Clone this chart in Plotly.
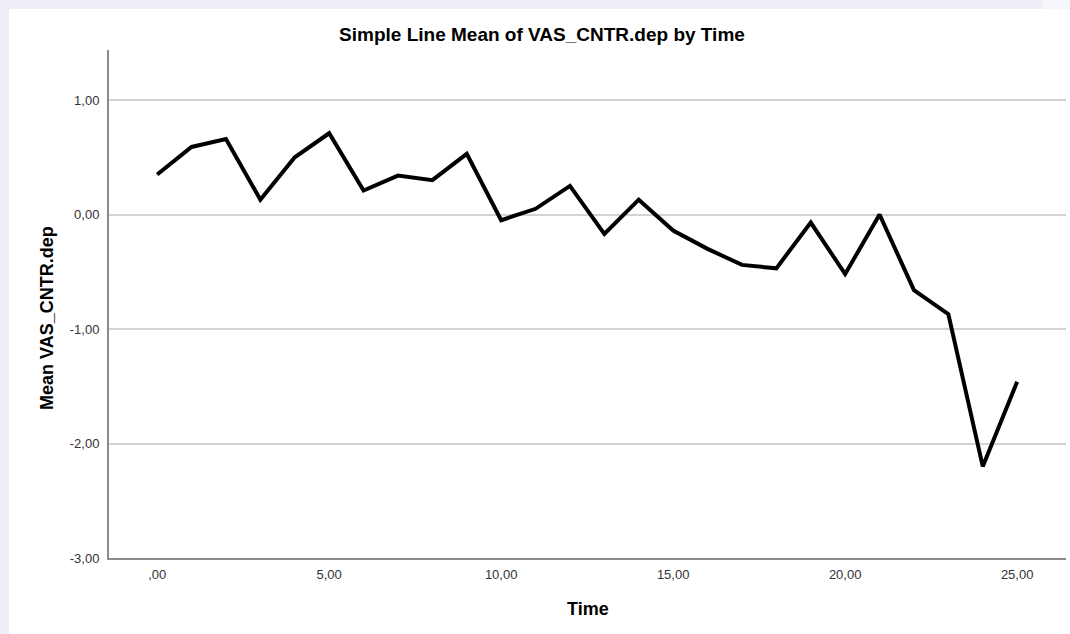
import plotly.graph_objects as go

time = list(range(26))
mean_vas = [0.35, 0.59, 0.66, 0.13, 0.50, 0.71, 0.21, 0.34, 0.30, 0.53,
            -0.05, 0.05, 0.25, -0.17, 0.13, -0.14, -0.30, -0.44, -0.47, -0.07,
            -0.52, 0.00, -0.66, -0.87, -2.20, -1.46]

x_tickvals = [0, 5, 10, 15, 20, 25]
x_ticktext = [",00", "5,00", "10,00", "15,00", "20,00", "25,00"]
y_tickvals = [-3, -2, -1, 0, 1]
y_ticktext = ["-3,00", "-2,00", "-1,00", "0,00", "1,00"]

W, H = 1070, 634
L, R, T, B = 109, 4, 50, 76
pw, ph = W - L - R, H - T - B

def px(xpix):
    return (xpix - L) / pw

def py(ypix):
    return (H - B - ypix) / ph

fig = go.Figure()
fig.add_trace(go.Scatter(
    x=time, y=mean_vas, mode="lines",
    line=dict(color="black", width=4),
    hoverinfo="x+y", showlegend=False,
))

fig.update_layout(
    width=W, height=H,
    margin=dict(l=L, r=R, t=T, b=B, autoexpand=False),
    paper_bgcolor="#efedf5",
    plot_bgcolor="white",
    font=dict(family="Liberation Sans, Arial, sans-serif", color="#222"),
    title=dict(text="<b>Simple Line Mean of VAS_CNTR.dep by Time</b>",
               x=542 / W, xref="container", xanchor="center",
               y=1 - 34 / H, yanchor="middle", yref="container",
               font=dict(size=19, color="black")),
    shapes=[
        dict(type="rect", xref="paper", yref="paper", layer="below",
             x0=px(9), x1=px(1075), y0=py(640), y1=py(9),
             fillcolor="white", line=dict(width=0)),
        dict(type="rect", xref="paper", yref="paper", layer="below",
             x0=px(1042), x1=px(1075), y0=py(9), y1=py(-5),
             fillcolor="#f5f5fc", line=dict(width=0)),
    ],
    annotations=[
        dict(text="<b>Time</b>", xref="paper", yref="paper",
             x=0.5, y=py(609), xanchor="center", yanchor="middle",
             showarrow=False, font=dict(size=18, color="black")),
        dict(text="<b>Mean VAS_CNTR.dep</b>", xref="paper", yref="paper",
             x=px(47), y=py(318), xanchor="center", yanchor="middle",
             textangle=-90, showarrow=False, font=dict(size=18, color="black")),
    ],
)

fig.update_xaxes(
    range=[-1.4, 26.42], tickvals=x_tickvals, ticktext=x_ticktext,
    showgrid=False, zeroline=False, showline=True, linecolor="#8c8c8c",
    linewidth=2, ticks="", tickfont=dict(size=13, color="#333"),
    ticklabelstandoff=3,
)
fig.update_yaxes(
    range=[-3, 1.437], tickvals=y_tickvals, ticktext=y_ticktext,
    showgrid=True, gridcolor="#d3d3d3", gridwidth=1.5, zeroline=False,
    showline=True, linecolor="#8c8c8c", linewidth=2, ticks="",
    tickfont=dict(size=13, color="#333"), ticklabelstandoff=5,
)

fig.write_html("out.html", config={"displayModeBar": False},
               post_script="document.body.style.margin='0';")
